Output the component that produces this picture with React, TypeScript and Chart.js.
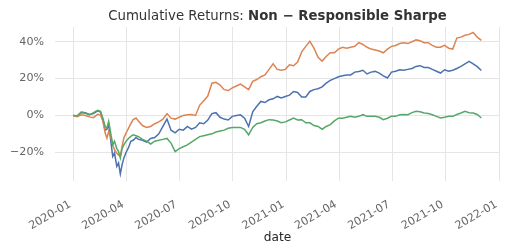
import React, { useEffect, useRef } from "react";
import { Chart, registerables } from "chart.js";

Chart.register(...registerables);

// ---- Data (days since 2020-01-01, cumulative return in %) ----
const dayOffsets: number[] = [
  0, 7, 14, 21, 28, 35, 42, 47, 51, 55,
  58, 61, 64, 68, 71, 75, 78, 81, 84, 87,
  91, 95, 99, 103, 108, 112,
  119, 126, 133, 140, 147, 154, 161, 168, 175, 182,
  189, 196, 203, 210, 217, 224, 231, 238, 245, 252,
  259, 266, 273, 280, 287, 294, 301, 308, 315, 322,
  329, 336, 343, 350, 357, 364, 371, 378, 385, 392,
  399, 406, 413, 420, 427, 434, 441, 448, 455, 462,
  469, 476, 483, 490, 497, 504, 511, 518, 525, 532,
  539, 546, 553, 560, 567, 574, 581, 588, 595, 602,
  609, 616, 623, 630, 637, 644, 651, 658, 665, 672,
  679, 686, 693, 700,
];

const blueReturns: number[] = [
  0, -0.3, 1.8, 1.5, 0.5, 1.0, 2.5, 1.8, -2.3, -8.0,
  -7.5, -5.0, -12.0, -22.3, -20.4, -27.7, -25.8, -31.8, -26.8, -23.2,
  -20.0, -17.5, -14.0, -13.5, -12.0, -13.0,
  -13.5, -14.5, -12.5, -12.0, -10.0, -6.0, -2.0, -8.0, -9.5, -7.5,
  -8.0, -6.0, -7.5, -6.5, -4.0, -4.5, -2.5, 1.0, 1.5, -1.0,
  -2.0, -2.5, -0.5, 0.0, 0.3, -1.5, -6.0, 2.0, 5.0, 7.6,
  7.0, 8.5, 9.0, 10.3, 9.5, 10.3, 11.0, 13.0, 12.5, 10.0,
  10.0, 13.0, 14.0, 14.5, 15.5, 17.5, 19.0, 20.0, 21.0, 21.5,
  22.0, 22.0, 23.5, 23.9, 24.5, 22.5, 23.5, 23.9, 23.0, 21.5,
  20.3, 23.5, 24.0, 24.8, 24.5, 25.0, 25.5, 26.6, 27.0, 26.0,
  26.0, 25.0, 24.0, 23.0, 24.8, 24.0, 24.5, 25.5, 26.6, 28.0,
  29.3, 28.0, 26.5, 24.4,
];

const orangeReturns: number[] = [
  0, -0.7, 0.3, 0.0, -0.8, -1.2, 0.6, 0.2, -3.0, -9.6,
  -12.3, -8.7, -11.0, -16.0, -18.6, -20.5, -21.5, -22.0, -16.8, -12.3,
  -9.5, -7.0, -4.5, -2.3, -1.4, -3.0,
  -5.5, -6.5, -6.0, -4.5, -3.5, -2.0, 1.0, -1.5, -2.0, -1.0,
  0.0, 0.4, 0.5, 0.0, 5.5, 8.0, 10.5, 17.5, 18.0, 16.5,
  14.0, 13.5, 15.0, 16.0, 17.0, 15.5, 14.0, 18.5, 19.5, 21.0,
  22.0, 25.0, 28.0, 25.0, 24.5, 25.0, 27.5, 27.0, 29.0, 34.5,
  37.5, 40.2, 36.5, 31.5, 29.5, 32.0, 34.0, 34.0, 36.0, 37.0,
  36.5, 37.0, 37.5, 39.5, 38.5, 37.0, 36.0, 35.5, 35.0, 34.0,
  36.0, 37.5, 38.0, 39.0, 39.5, 39.0, 40.0, 41.0, 40.5, 39.5,
  39.5, 38.0, 37.0, 37.0, 38.0, 36.5, 36.0, 42.0, 42.5, 43.5,
  44.0, 45.0, 42.5, 40.7,
];

const greenReturns: number[] = [
  0, -0.2, 1.5, 1.2, 0.3, 1.5, 2.8, 2.2, -1.4, -6.0,
  -6.9, -3.2, -8.7, -16.0, -14.0, -18.0, -19.6, -23.2, -18.0, -16.0,
  -14.0, -12.5, -11.4, -10.5, -11.0, -11.5,
  -13.0, -14.0, -15.5, -14.0, -13.5, -13.0, -12.5, -15.0, -19.6, -18.0,
  -17.0, -16.0, -14.5, -13.0, -11.5, -11.0, -10.5, -10.0, -9.0, -8.5,
  -8.0, -7.0, -6.5, -6.5, -6.5, -7.5, -10.5, -6.5, -4.5, -4.0,
  -3.0, -2.3, -2.5, -3.0, -4.0, -3.5, -2.5, -1.5, -2.5, -2.3,
  -4.0, -4.0, -5.5, -6.0, -7.5, -6.0, -5.0, -3.0, -1.5, -1.5,
  -1.0, -0.5, -1.0, -0.5, 0.4, -0.5, -0.5, -0.5, -1.0, -2.3,
  -1.5, -0.5, -0.5, 0.4, 0.5, 0.4, 1.5, 2.2, 2.0, 1.3,
  1.0, 0.4, -0.5, -1.4, -1.0, -0.5, -0.5, 0.5, 1.3, 2.2,
  1.5, 1.3, 0.5, -1.4,
];

const xTickDays: number[] = [0, 91, 182, 274, 366, 456, 547, 639, 731];
const xTickLabels: string[] = [
  "2020-01", "2020-04", "2020-07", "2020-10", "2021-01",
  "2021-04", "2021-07", "2021-10", "2022-01",
];
const yTickValues: number[] = [-20, 0, 20, 40];

const titlePlain = "Cumulative Returns: ";
const titleBold = "Non \u2212 Responsible Sharpe";
const xAxisTitle = "date";

const FONT = '"DejaVu Sans", sans-serif';

const toPoints = (vals: number[]) => dayOffsets.map((d, i) => ({ x: d, y: vals[i] }));

const mixedTitlePlugin = {
  id: "mixedTitle",
  afterDraw(chart: any) {
    const { ctx, chartArea } = chart;
    ctx.save();
    const size = 13.3;
    ctx.font = `normal ${size}px ${FONT}`;
    const w1 = ctx.measureText(titlePlain).width;
    ctx.font = `bold ${size}px ${FONT}`;
    const w2 = ctx.measureText(titleBold).width;
    const cx = (chartArea.left + chartArea.right) / 2;
    const x0 = cx - (w1 + w2) / 2;
    const y = 19.5;
    ctx.fillStyle = "#333333";
    ctx.textBaseline = "alphabetic";
    ctx.textAlign = "left";
    ctx.font = `normal ${size}px ${FONT}`;
    ctx.fillText(titlePlain, x0, y);
    ctx.font = `bold ${size}px ${FONT}`;
    ctx.fillText(titleBold, x0 + w1, y);
    ctx.restore();
  },
};

export default function App() {
  const canvasRef = useRef<HTMLCanvasElement | null>(null);

  useEffect(() => {
    if (!canvasRef.current) return;
    const chart = new Chart(canvasRef.current, {
      type: "line",
      data: {
        datasets: [
          {
            label: "Portfolio A",
            data: toPoints(blueReturns),
            borderColor: "#4C72B0",
            borderWidth: 1.5,
            pointRadius: 0,
            tension: 0,
            order: 2,
          },
          {
            label: "Portfolio B",
            data: toPoints(orangeReturns),
            borderColor: "#DD8452",
            borderWidth: 1.5,
            pointRadius: 0,
            tension: 0,
            order: 1,
          },
          {
            label: "Portfolio C",
            data: toPoints(greenReturns),
            borderColor: "#55A868",
            borderWidth: 1.5,
            pointRadius: 0,
            tension: 0,
            order: 0,
          },
        ],
      },
      options: {
        responsive: false,
        animation: false,
        devicePixelRatio: 1,
        layout: { padding: { top: 27, right: 7, left: 0, bottom: 0 } },
        plugins: {
          legend: { display: false },
          tooltip: { enabled: false },
          title: { display: false },
        },
        scales: {
          x: {
            type: "linear",
            min: -31,
            max: 732,
            border: { display: false },
            grid: { color: "#e5e5e5", lineWidth: 1, drawTicks: false },
            afterBuildTicks: (scale: any) => {
              scale.ticks = xTickDays.map((v) => ({ value: v }));
            },
            afterFit: (scale: any) => {
              scale.height = 71;
              scale.paddingLeft = 0;
              scale.paddingRight = 0;
            },
            ticks: {
              autoSkip: false,
              minRotation: 30,
              maxRotation: 30,
              padding: 17,
              labelOffset: -3,
              color: "#666666",
              font: { family: FONT, size: 11.1 },
              callback: (_v: any, i: number) => xTickLabels[i],
            },
            title: {
              display: true,
              text: xAxisTitle,
              color: "#262626",
              font: { family: FONT, size: 12.2 },
              padding: { top: 0, bottom: 7 },
            },
          },
          y: {
            type: "linear",
            min: -35.6,
            max: 48,
            border: { display: false },
            grid: { color: "#e5e5e5", lineWidth: 1, drawTicks: false },
            afterBuildTicks: (scale: any) => {
              scale.ticks = yTickValues.map((v) => ({ value: v }));
            },
            afterFit: (scale: any) => {
              scale.width = 55;
              scale.paddingTop = 0;
              scale.paddingBottom = 0;
            },
            ticks: {
              padding: 11,
              color: "#666666",
              font: { family: FONT, size: 11.1 },
              callback: (v: any) => `${Number(v) < 0 ? "\u2212" : ""}${Math.abs(Number(v))}%`,
            },
          },
        },
      },
      plugins: [mixedTitlePlugin],
    });
    return () => chart.destroy();
  }, []);

  return (
    <div style={{ position: "absolute", left: 0, top: 0, width: 507, height: 252, background: "#ffffff" }}>
      <canvas ref={canvasRef} width={507} height={252} />
    </div>
  );
}
